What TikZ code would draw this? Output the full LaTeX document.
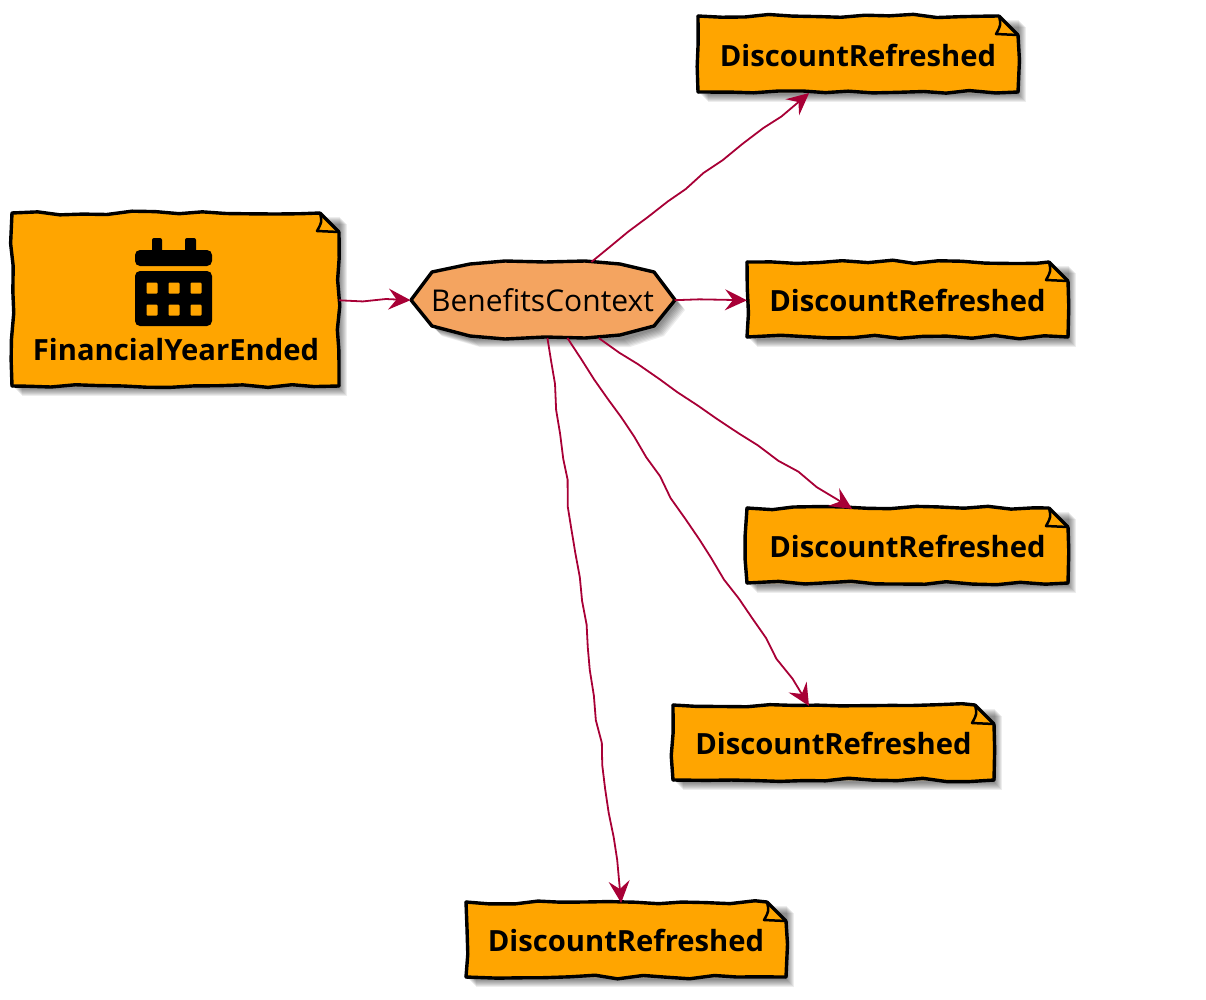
\documentclass[tikz,border=0pt]{standalone}
\usepackage{fontspec}
\setmainfont{Open Sans}
\usetikzlibrary{arrows.meta,decorations.pathmorphing}
\definecolor{noteorange}{HTML}{FFA500}
\definecolor{ctxorange}{HTML}{F4A460}
\definecolor{flowred}{HTML}{A80036}
\tikzset{
  wobble/.style={decorate,decoration={random steps,segment length=24,amplitude=1.9}},
  outline/.style={draw=black,line width=3.4pt,line join=round,line cap=round},
  notenode/.style={rectangle,inner sep=0pt,outer sep=0pt,font=\fontsize{29.2}{29.2}\selectfont\bfseries},
  ctxnode/.style={rectangle,inner sep=0pt,outer sep=0pt,minimum width=264pt,minimum height=76pt,font=\fontsize{30}{30}\selectfont},
  flow/.style={draw=flowred,line width=1.8pt,wobble,-{Stealth[length=22pt,width=21pt,inset=8pt]}},
}
% note with its folded corner: name, left, top, right, bottom, text
\newcommand{\notebox}[6]{
  \foreach \s in {1,...,8}
    \fill[black,opacity=0.07] (#2+2+\s,#3+3+\s) rectangle (#4+\s,#5+2+\s);
  \fill[noteorange] (#2,#3) -- (#4-19,#3) -- (#4,#3+19) -- (#4,#5) -- (#2,#5) -- cycle;
  \draw[outline,wobble] (#2,#3) -- (#4-19,#3);
  \draw[outline] (#4-19,#3) -- (#4,#3+19);
  \draw[outline,wobble] (#4,#3+19) -- (#4,#5);
  \draw[outline,wobble] (#4,#5) -- (#2,#5);
  \draw[outline,wobble] (#2,#5) -- (#2,#3);
  \draw[black,line width=2.5pt,line join=round] (#4-19,#3) .. controls (#4-17,#3+9) .. (#4-22,#3+18) -- (#4,#3+19);
  \node[notenode,minimum width={(#4-#2)*1pt},minimum height={(#5-#3)*1pt}] (#1) at ({(#2+#4)/2},{(#3+#5)/2+1}) {#6};
}
\begin{document}
\begin{tikzpicture}[x=1pt,y=-1pt]
  \useasboundingbox (0,0) rectangle (1206,999);
  \pgfmathsetseed{4217}

  \notebox{financial}{12}{213}{339}{386}{}
  \node[notenode] (financiallabel) at (176,350) {FinancialYearEnded};
  % calendar
  \fill[black,rounded corners=2pt] (152,238) rectangle (162,256);
  \fill[black,rounded corners=2pt] (185,238) rectangle (196,256);
  \fill[black,rounded corners=5pt] (135,250) rectangle (212,266);
  \fill[black,rounded corners=5pt] (135,271) rectangle (212,326);
  \foreach \cx in {152,174,196}
    \foreach \cy in {288,310}
      \fill[noteorange,rounded corners=1pt] (\cx-5.5,\cy-5.5) rectangle (\cx+5.5,\cy+5.5);

  \notebox{refreshedA}{698}{16}{1018}{92}{DiscountRefreshed}
  \notebox{refreshedB}{747}{262}{1068}{337}{DiscountRefreshed}
  \notebox{refreshedC}{747}{508}{1068}{583}{DiscountRefreshed}
  \notebox{refreshedD}{673}{705}{994}{780}{DiscountRefreshed}
  \notebox{refreshedE}{466}{902}{786}{977}{DiscountRefreshed}

  % context
  \foreach \s in {1,...,8}
    \fill[black,opacity=0.07] (411+2+\s,300+2+\s) -- (432+2+\s,272+2+\s) -- (470+2+\s,263+2+\s) -- (620+2+\s,263+2+\s) -- (654+2+\s,272+2+\s) -- (675+2+\s,300+2+\s) -- (654+2+\s,326+2+\s) -- (620+2+\s,337+2+\s) -- (470+2+\s,337+2+\s) -- (432+2+\s,326+2+\s) -- cycle;
  \filldraw[outline,fill=ctxorange] (411,300) -- (432,272) -- (470,264) -- (505,261) -- (545,262) -- (585,261) -- (620,264) -- (654,272) -- (675,300) -- (654,326) -- (620,335) -- (585,338) -- (545,337) -- (505,339) -- (470,336) -- (432,326) -- cycle;
  \node[ctxnode] (context) at (542.5,300) {BenefitsContext};

  \draw[flow] (financial) -- (context);
  \draw[flow] (context) -- (refreshedA);
  \draw[flow] (context) -- (refreshedB);
  \draw[flow] (context) -- (refreshedC);
  \draw[flow] (context) -- (refreshedD);
  \draw[flow] (context) -- (refreshedE);
\end{tikzpicture}
\end{document}
